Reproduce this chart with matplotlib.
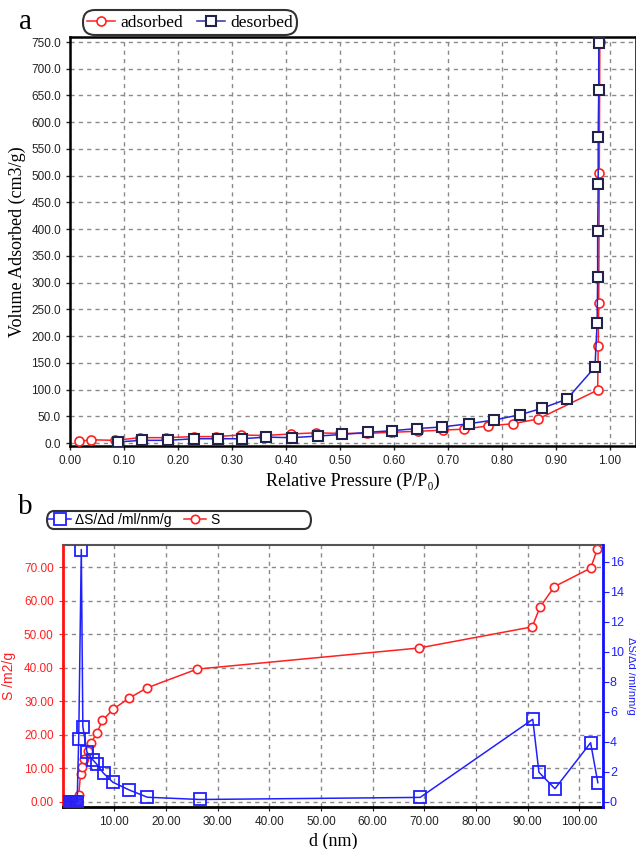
import matplotlib
matplotlib.use("Agg")
from matplotlib import pyplot as plt
from matplotlib.lines import Line2D
from matplotlib.patches import FancyBboxPatch
from matplotlib.ticker import FormatStrFormatter, MultipleLocator

SANS = ["Liberation Sans", "DejaVu Sans"]
SERIF = ["Liberation Serif", "DejaVu Serif"]
GRID = dict(color="#8a8a8a", linestyle=(0, (3, 3)), linewidth=1.0)

# panel a: isotherm
ads_p = [0.016, 0.039, 0.084, 0.129, 0.178, 0.23, 0.27, 0.316, 0.36, 0.41,
         0.455, 0.50, 0.55, 0.594, 0.645, 0.69, 0.73, 0.774, 0.82, 0.867,
         0.977, 0.978, 0.979, 0.980, 0.981]
ads_v = [3, 6, 5, 10, 10, 12, 12, 15, 14, 17, 19, 18, 18, 20, 22, 24, 26, 32,
         36, 45, 99, 181, 262, 505, 750]
des_p = [0.088, 0.133, 0.181, 0.229, 0.274, 0.319, 0.363, 0.411, 0.459, 0.504,
         0.551, 0.596, 0.642, 0.689, 0.738, 0.785, 0.834, 0.874, 0.92, 0.972,
         0.976, 0.977, 0.977, 0.978, 0.978, 0.979, 0.979]
des_v = [2, 5, 5, 8, 8, 8, 11, 10, 13, 16, 20, 23, 27, 30, 36, 43, 53, 65, 82,
         142, 224, 310, 396, 484, 572, 660, 748]

# panel b: pore distribution
s_d = [0.4, 0.7, 1.0, 1.3, 1.6, 1.9, 2.2, 2.5, 2.8, 3.0, 3.1, 3.45, 3.8, 4.2,
       4.84, 5.5, 6.65, 7.7, 9.8, 12.8, 16.3, 26.0, 69.0, 90.9, 92.4, 95.2,
       102.2, 103.5]
s_val = [0, 0, 0, 0, 0, 0, 0, 0, 0, 0.3, 2.0, 8.3, 10.4, 12.7, 15.1, 17.6,
         20.7, 24.3, 27.7, 30.9, 34.0, 39.6, 45.9, 52.2, 58.1, 64.2, 69.7, 75.3]
ds_d = [0.4, 0.8, 1.2, 1.6, 2.0, 2.4, 2.8, 3.1, 3.6, 3.9, 4.7, 5.8, 6.6, 7.9,
        9.7, 12.9, 16.4, 26.6, 69.2, 91.0, 92.2, 95.3, 102.2, 103.6]
ds_val = [0, 0, 0, 0, 0, 0, 0, 4.2, 16.8, 5.0, 3.3, 2.8, 2.5, 1.9, 1.3, 0.78,
          0.3, 0.15, 0.29, 5.49, 1.96, 0.87, 3.93, 1.27]

fig = plt.figure(figsize=(6.36, 8.49), dpi=100)

# ---------------- panel a ----------------
ax = fig.add_axes([70 / 636, 1 - 446 / 849, 566 / 636, 409 / 849])
ax.plot(ads_p, ads_v, color="#ff2020", lw=1.1, marker="o", ms=6.5,
        mfc="white", mec="#ff2020", mew=1.2, zorder=3)
ax.plot(des_p, des_v, color="#2424e0", lw=1.1, marker="s", ms=6.5,
        mfc="white", mec="#22224a", mew=1.5, zorder=4)
ax.set_xlim(0, 1.048)
ax.set_ylim(-5.6, 759.4)
ax.xaxis.set_major_locator(MultipleLocator(0.1))
ax.yaxis.set_major_locator(MultipleLocator(50))
ax.xaxis.set_major_formatter(FormatStrFormatter("%.2f"))
ax.yaxis.set_major_formatter(FormatStrFormatter("%.1f"))
ax.grid(True, **GRID)
ax.set_axisbelow(True)
for sp in ax.spines.values():
    sp.set_linewidth(1.8)
ax.tick_params(length=3, width=1, labelsize=8.5, colors="#222")
for lab in ax.get_xticklabels() + ax.get_yticklabels():
    lab.set_family(SANS)
ax.set_xlabel("Relative Pressure (P/P\u2080)", family=SERIF, fontsize=13, labelpad=4)
ax.set_ylabel("Volume Adsorbed (cm3/g)", family=SERIF, fontsize=13, labelpad=4)
fig.text(25 / 636, 1 - 22 / 849, "a", family=SERIF, fontsize=21,
         ha="center", va="center")

h_a = [Line2D([], [], color="#ff2020", lw=1.1, marker="o", ms=6.5, mfc="white",
              mec="#ff2020", mew=1.2),
       Line2D([], [], color="#3030a0", lw=1.1, marker="s", ms=6.5, mfc="white",
              mec="#22224a", mew=1.5)]
leg = fig.legend(h_a, ["adsorbed", "desorbed"], loc="center",
                 bbox_to_anchor=(190 / 636, 1 - 22.5 / 849), ncol=2,
                 prop={"family": SERIF, "size": 12.5}, handlelength=1.6,
                 handletextpad=0.3, columnspacing=0.8, borderpad=0.15,
                 fancybox=True, framealpha=1)
leg.get_frame().set_boxstyle("round", pad=0.1, rounding_size=0.7)
leg.get_frame().set_edgecolor("#333")
leg.get_frame().set_linewidth(1.5)

# ---------------- panel b ----------------
bx = fig.add_axes([62.7 / 636, 1 - 807 / 849, 540.3 / 636, 262 / 849])
bx.plot(s_d, s_val, color="#ff2020", lw=1.1, marker="o", ms=6,
        mfc="white", mec="#ff2020", mew=1.2, zorder=3)
bx.set_xlim(0, 104.6)
bx.set_ylim(-1.5, 76.6)
bx.yaxis.set_major_locator(MultipleLocator(10))
bx.xaxis.set_major_formatter(FormatStrFormatter("%.2f"))
bx.yaxis.set_major_formatter(FormatStrFormatter("%.2f"))
bx.set_xticks(range(10, 101, 10))
bx.grid(True, **GRID)
bx.set_axisbelow(True)
bx.spines["left"].set_color("#ff1010")
bx.spines["left"].set_linewidth(2)
bx.spines["bottom"].set_linewidth(2)
bx.spines["top"].set_color("#555")
bx.spines["top"].set_linewidth(1.5)
bx.spines["right"].set_visible(False)
bx.tick_params(axis="y", colors="#ff2020", length=3, labelsize=8.5)
bx.tick_params(axis="x", colors="#222", length=3, labelsize=8.5)
for lab in bx.get_xticklabels() + bx.get_yticklabels():
    lab.set_family(SANS)
bx.set_xlabel("d (nm)", family=SERIF, fontsize=13, labelpad=3)
bx.set_ylabel("S /m2/g", family=SANS, fontsize=10, color="#ff2020", labelpad=6)

tx = bx.twinx()
tx.plot(ds_d, ds_val, color="#2020ff", lw=1.1, marker="s", ms=8.5,
        mfc="none", mec="#2020ff", mew=1.3, zorder=4)
tx.set_ylim(-0.35, 17.1)
tx.yaxis.set_major_locator(MultipleLocator(2))
tx.yaxis.set_major_formatter(FormatStrFormatter("%d"))
for k in ["left", "top", "bottom"]:
    tx.spines[k].set_visible(False)
tx.spines["right"].set_color("#1010ff")
tx.spines["right"].set_linewidth(2)
tx.tick_params(axis="y", colors="#2020ff", length=4, pad=1, labelsize=9)
for lab in tx.get_yticklabels():
    lab.set_family(SANS)
fig.text(636 / 636, 1 - 676 / 849, "\u0394S/\u0394d /ml/nm/g", family=SANS,
         fontsize=8, color="#2020ff", rotation=270, ha="right", va="center")
fig.text(25 / 636, 1 - 507 / 849, "b", family=SERIF, fontsize=21,
         ha="center", va="center")

h_b = [Line2D([], [], color="#2020ff", lw=1.1, marker="s", ms=8, mfc="white",
              mec="#2020ff", mew=1.3),
       Line2D([], [], color="#ff2020", lw=1.1, marker="o", ms=6, mfc="white",
              mec="#ff2020", mew=1.2)]
leg2 = fig.legend(h_b, ["\u0394S/\u0394d /ml/nm/g", "S"], loc="center left",
                  bbox_to_anchor=(47 / 636, 1 - 520 / 849), ncol=2,
                  prop={"family": SANS, "size": 10}, handlelength=1.6,
                  handletextpad=0.3, columnspacing=0.9, borderpad=0.1,
                  borderaxespad=0, frameon=False)
# pill shaped frame that is wider than the entries
frame = FancyBboxPatch((47 / 636, 1 - 529 / 849), 264 / 636, 18 / 849,
                       boxstyle="round,pad=0,rounding_size=0.011",
                       transform=fig.transFigure, facecolor="white",
                       edgecolor="#333", linewidth=1.5, zorder=0)
fig.patches.append(frame)

fig.savefig("out.png", dpi=100)
